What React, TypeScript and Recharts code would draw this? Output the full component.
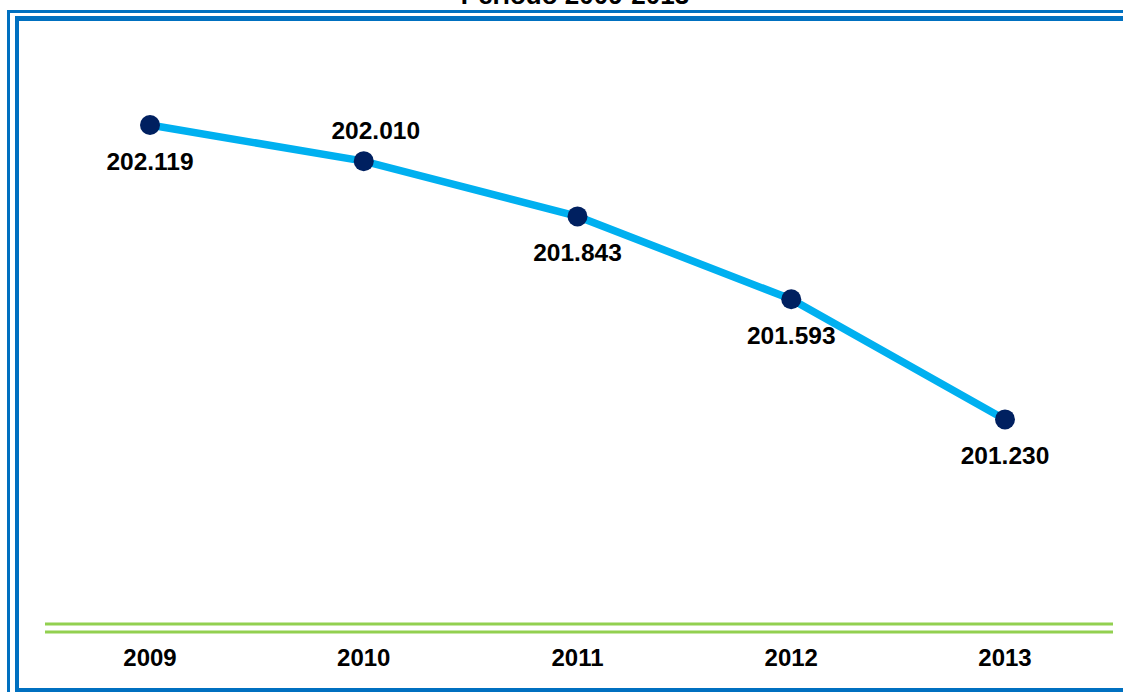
import { LineChart, Line, XAxis, YAxis, usePlotArea } from "recharts";

const years = ["2009", "2010", "2011", "2012", "2013"];
const population = [202.119, 202.01, 201.843, 201.593, 201.23];
const valueLabels = ["202.119", "202.010", "201.843", "201.593", "201.230"];
const title = "Período 2009-2013";

const data = years.map((year, i) => ({ year, value: population[i], label: valueLabels[i] }));

const FONT = '"Liberation Sans", Arial, sans-serif';
const BLUE = "#0070c0";
const GREEN = "#92d050";

function Frame() {
  const plot = usePlotArea();
  const bottom = plot ? plot.y + plot.height : 628;
  const left = plot ? plot.x : 43;
  const right = plot ? plot.x + plot.width : 1112;
  return (
    <g>
      <text x={575} y={4} textAnchor="middle" fontFamily={FONT} fontWeight="bold" fontSize={26} fill="#000">
        {title}
      </text>
      {/* double border */}
      <rect x={7} y={10} width={1200} height={3} fill={BLUE} />
      <rect x={7} y={10} width={3} height={700} fill={BLUE} />
      <rect x={15} y={16} width={1200} height={5} fill={BLUE} />
      <rect x={15} y={16} width={4} height={700} fill={BLUE} />
      <rect x={15} y={688} width={1200} height={4} fill={BLUE} />
      {/* green double axis line */}
      <line x1={left + 2} x2={right + 1} y1={bottom - 4} y2={bottom - 4} stroke={GREEN} strokeWidth={3} />
      <line x1={left + 2} x2={right + 1} y1={bottom + 4} y2={bottom + 4} stroke={GREEN} strokeWidth={3} />
    </g>
  );
}

function ValueLabel(props: any) {
  const { x, y, index, value } = props;
  const above = index === 1;
  return (
    <text
      x={x + (above ? 12 : 0)}
      y={y + (above ? -22 : 45)}
      textAnchor="middle"
      fontFamily={FONT}
      fontWeight="bold"
      fontSize={24.5}
      fill="#000"
    >
      {value}
    </text>
  );
}

export default function App() {
  return (
    <div style={{ position: "absolute", left: 0, top: 0, width: 1123, height: 692, overflow: "hidden", background: "#fff" }}>
      <LineChart width={1123} height={692} data={data} margin={{ top: 32, right: 11, bottom: 24, left: 43 }}>
        <XAxis
          dataKey="year"
          padding={{ left: 107, right: 107 }}
          axisLine={false}
          tickLine={false}
          height={40}
          tickMargin={15}
          tick={{ fontFamily: FONT, fontWeight: "bold", fontSize: 24, fill: "#000" }}
        />
        <YAxis hide domain={[200.6, 202.4]} />
        <Frame />
        <Line
          type="linear"
          dataKey="value"
          stroke="#00b0f0"
          strokeWidth={7.5}
          dot={{ r: 10, fill: "#002060", stroke: "#002060", strokeWidth: 0 }}
          activeDot={false}
          isAnimationActive={false}
          label={(p: any) => <ValueLabel {...p} value={data[p.index].label} />}
        />
      </LineChart>
    </div>
  );
}
